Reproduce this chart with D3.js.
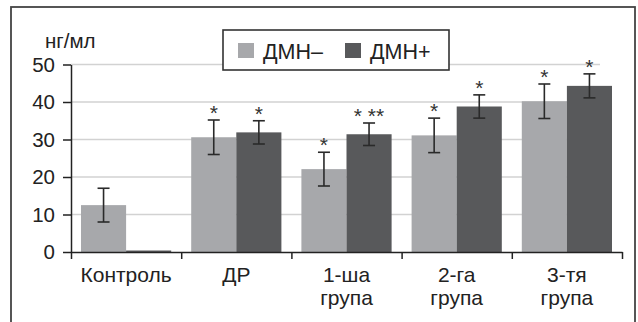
<!DOCTYPE html>
<html>
<head>
<meta charset="utf-8">
<script src="https://cdn.jsdelivr.net/npm/d3@7"></script>
<style>
  body { margin: 0; background: #fff; }
  svg { display: block; font-family: "Liberation Sans", Arial, sans-serif; }
</style>
</head>
<body>
<div id="chart"></div>
<script>
const categories = [["Контроль"], ["ДР"], ["1-ша", "група"], ["2-га", "група"], ["3-тя", "група"]];
const seriesNames = ["ДМН–", "ДМН+"];
const dmnMinus = [12.5, 30.6, 22.1, 31.1, 40.2];
const dmnMinusErr = [4.5, 4.6, 4.5, 4.6, 4.6];
const dmnPlus = [0, 31.9, 31.4, 38.8, 44.3];
const dmnPlusErr = [0, 3.1, 3.0, 3.1, 3.2];
const minusStars = ["", "*", "*", "*", "*"];
const plusStars = ["", "*", "* **", "*", "*"];
const yTicks = [0, 10, 20, 30, 40, 50];

const colors = ["#a7a8ab", "#58595b"];
const W = 638, H = 322;

const svg = d3.select("#chart").append("svg")
    .attr("width", W)
    .attr("height", H);

// outer frame
svg.append("rect")
    .attr("x", 11).attr("y", 7)
    .attr("width", 624).attr("height", 400)
    .attr("fill", "none")
    .attr("stroke", "#444")
    .attr("stroke-width", 1.8);

const x0 = 71, x1 = 622;
const y = d3.scaleLinear().domain([0, 50]).range([252, 64.5]);
const xBand = d3.scaleBand().domain(d3.range(categories.length)).range([x0, x1]);
const xSub = d3.scaleBand().domain([0, 1]).range([10, xBand.bandwidth() - 10]);
const xEdges = d3.scaleLinear().domain([0, categories.length]).range([x0, x1]);

// gridlines
svg.append("g")
    .selectAll("line")
    .data(yTicks.filter(d => d > 0))
    .enter().append("line")
    .attr("x1", x0).attr("x2", 600)
    .attr("y1", d => y(d)).attr("y2", d => y(d))
    .attr("stroke", "#d2d2d2")
    .attr("stroke-width", 1.6);

const series = [
    {vals: dmnMinus, err: dmnMinusErr, stars: minusStars},
    {vals: dmnPlus, err: dmnPlusErr, stars: plusStars}
];

series.forEach((s, si) => {
    const g = svg.append("g");
    g.selectAll("rect")
        .data(s.vals)
        .enter().append("rect")
        .attr("x", (d, i) => xBand(i) + xSub(si))
        .attr("width", xSub.bandwidth())
        .attr("y", d => Math.min(y(d), y(0) - 1.5))
        .attr("height", d => Math.max(y(0) - y(d), 1.5))
        .attr("fill", colors[si]);

    s.vals.forEach((v, i) => {
        if (!s.err[i]) return;
        const cx = xBand(i) + xSub(si) + xSub.bandwidth() / 2;
        const top = y(v + s.err[i]), bot = y(v - s.err[i]);
        g.append("line").attr("x1", cx).attr("x2", cx).attr("y1", top).attr("y2", bot);
        g.append("line").attr("x1", cx - 6).attr("x2", cx + 6).attr("y1", top).attr("y2", top);
        g.append("line").attr("x1", cx - 6).attr("x2", cx + 6).attr("y1", bot).attr("y2", bot);
        if (s.stars[i]) {
            g.append("text")
                .attr("x", cx)
                .attr("y", top)
                .attr("text-anchor", "middle")
                .attr("font-size", 21)
                .attr("fill", "#333")
                .text(s.stars[i]);
        }
    });
    g.selectAll("line").attr("stroke", "#2a2a2a").attr("stroke-width", 1.6);
});

// y axis
const yAxis = svg.append("g")
    .attr("transform", `translate(${x0},0)`)
    .call(d3.axisLeft(y).tickValues(yTicks).tickSize(8).tickSizeOuter(0).tickPadding(8));
yAxis.selectAll("text").attr("font-size", 20.5).attr("fill", "#222");
yAxis.selectAll("line, path").attr("stroke", "#222").attr("stroke-width", 1.5);

// x axis
const xAxis = svg.append("g")
    .attr("transform", `translate(0,${y(0)})`)
    .call(d3.axisBottom(xEdges).tickValues(d3.range(categories.length + 1)).tickFormat("").tickSize(7).tickSizeOuter(0));
xAxis.selectAll("line, path").attr("stroke", "#222").attr("stroke-width", 1.5);

// category labels
svg.append("g")
    .selectAll("text")
    .data(categories)
    .enter().append("text")
    .attr("x", (d, i) => xBand(i) + xBand.bandwidth() / 2)
    .attr("y", 282)
    .attr("text-anchor", "middle")
    .attr("font-size", 21)
    .attr("fill", "#222")
    .each(function(lines) {
        const t = d3.select(this);
        const cx = t.attr("x");
        lines.forEach((l, k) => {
            t.append("tspan").attr("x", cx).attr("dy", k === 0 ? 0 : 23).text(l);
        });
    });

// unit label
svg.append("text")
    .attr("x", 45).attr("y", 48)
    .attr("font-size", 20.5)
    .attr("fill", "#222")
    .text("нг/мл");

// legend
const legend = svg.append("g");
legend.append("rect")
    .attr("x", 223).attr("y", 30)
    .attr("width", 226).attr("height", 40)
    .attr("fill", "#fff")
    .attr("stroke", "#333")
    .attr("stroke-width", 1.6);
const legendX = [238, 345];
seriesNames.forEach((n, i) => {
    legend.append("rect")
        .attr("x", legendX[i]).attr("y", 43)
        .attr("width", 16).attr("height", 15)
        .attr("fill", colors[i]);
    legend.append("text")
        .attr("x", legendX[i] + 25).attr("y", 58.5)
        .attr("font-size", 21.5)
        .attr("fill", "#222")
        .text(n);
});
</script>
</body>
</html>
